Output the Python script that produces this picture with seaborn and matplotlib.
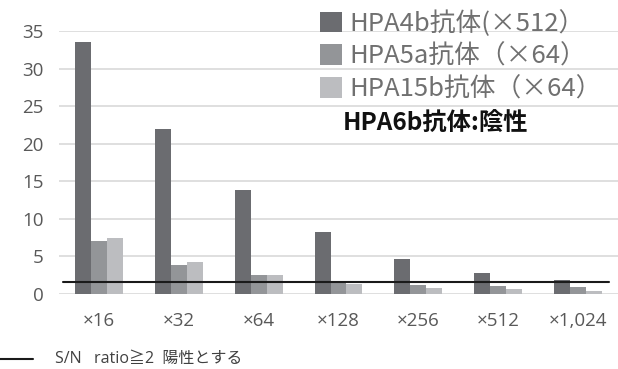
import matplotlib
matplotlib.use("Agg")
import matplotlib.pyplot as plt
from matplotlib.lines import Line2D
import seaborn as sns
import pandas as pd

dilutions = ["×16", "×32", "×64", "×128", "×256", "×512", "×1,024"]
antibodies = ["HPA4b抗体(×512）", "HPA5a抗体（×64）", "HPA15b抗体（×64）"]
hpa4b = [33.6, 21.9, 13.9, 8.3, 4.6, 2.8, 1.8]
hpa5a = [7.0, 3.8, 2.5, 1.6, 1.2, 1.1, 0.9]
hpa15b = [7.4, 4.3, 2.5, 1.3, 0.8, 0.6, 0.4]
threshold = 1.6
y_ticks = [0, 5, 10, 15, 20, 25, 30, 35]
colors = ["#6b6c70", "#939598", "#bcbdc0"]

rows = []
for name, vals in zip(antibodies, [hpa4b, hpa5a, hpa15b]):
    for d, v in zip(dilutions, vals):
        rows.append({"dilution": d, "antibody": name, "sn": v})
df = pd.DataFrame(rows)

sns.set_theme(style="white")
plt.rcParams["font.family"] = ["Open Sans", "Noto Sans CJK JP", "DejaVu Sans"]

fig = plt.figure(figsize=(6.18, 3.69), dpi=100)
ax = fig.add_axes([59 / 618, 75 / 369, 559 / 618, (294 - 31) / 369])

sns.barplot(data=df, x="dilution", y="sn", hue="antibody", palette=colors,
            width=0.6, saturation=1, ax=ax, order=dilutions, hue_order=antibodies,
            edgecolor="none", linewidth=0)

ax.set_ylim(0, 35)
ax.set_yticks(y_ticks)
ax.set_xlim(-0.5, len(dilutions) - 0.5)
ax.yaxis.grid(True, color="#d9d9d9", linewidth=1.2)
ax.set_axisbelow(True)
for s in ax.spines.values():
    s.set_visible(False)
ax.set_xlabel("")
ax.set_ylabel("")
ax.tick_params(axis="both", length=0, labelsize=13.5, labelcolor="#595959")
ax.tick_params(axis="x", pad=13)
ax.tick_params(axis="y", pad=11)

# positivity cut-off line
ax.axhline(threshold, xmin=0.007, xmax=0.984, color="#1a1a1a", linewidth=1.5)

handles, labels = ax.get_legend_handles_labels()
leg = ax.legend(handles, labels, loc="upper left", bbox_to_anchor=(320 / 618, 1 - 10 / 369),
                bbox_transform=fig.transFigure,
                frameon=False, handlelength=0.85, handleheight=0.85,
                handletextpad=0.3, labelspacing=0.26, borderaxespad=0, borderpad=0,
                prop={"family": ["Noto Sans CJK JP", "DejaVu Sans"], "size": 18.5})
for t in leg.get_texts():
    t.set_color("#707070")

fig.text(343 / 618, 1 - 124 / 369, "HPA6b抗体:陰性", fontsize=17.5, fontweight="bold",
         color="#111111", va="center", ha="left",
         family=["Noto Sans CJK JP", "DejaVu Sans"])

# cut-off key below the chart
fig.add_artist(Line2D([0 / 618, 33 / 618], [1 - 359 / 369, 1 - 359 / 369],
                      color="#1a1a1a", linewidth=1.5))
fig.text(55 / 618, 1 - 359 / 369, "S/N   ratio≧2  陽性とする", fontsize=11.5,
         color="#404040", va="center", ha="left",
         family=["Open Sans", "Noto Sans CJK JP", "DejaVu Sans"])

fig.savefig("out.png", dpi=100)
